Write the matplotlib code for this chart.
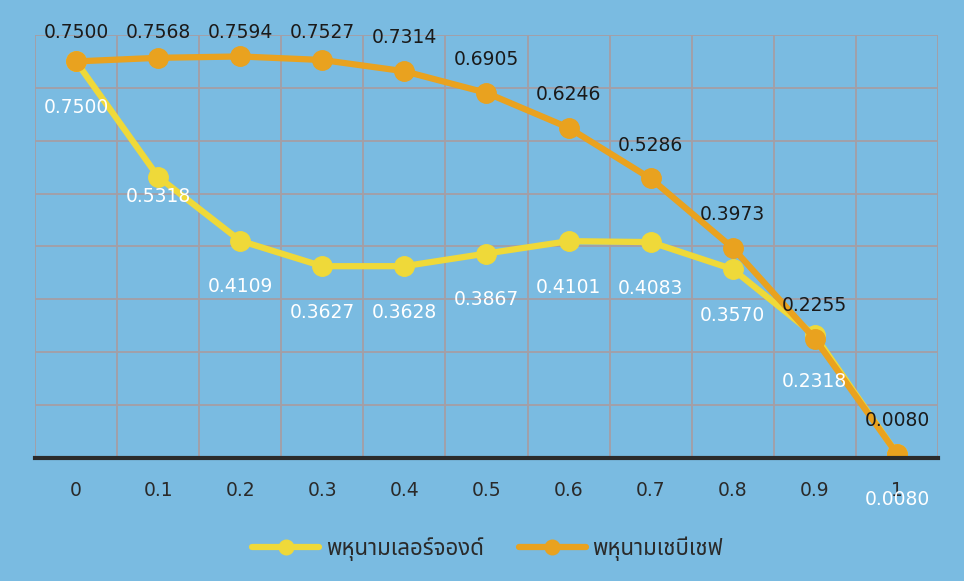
import matplotlib
matplotlib.use("Agg")
import matplotlib.pyplot as plt
import numpy as np

# x positions along the interval and the two approximations
x_labels = ["0", "0.1", "0.2", "0.3", "0.4", "0.5", "0.6", "0.7", "0.8", "0.9", "1"]
laguerre = [0.7500, 0.5318, 0.4109, 0.3627, 0.3628, 0.3867, 0.4101, 0.4083, 0.3570, 0.2318, 0.0080]
chebyshev = [0.7500, 0.7568, 0.7594, 0.7527, 0.7314, 0.6905, 0.6246, 0.5286, 0.3973, 0.2255, 0.0080]
series_names = ["พหุนามเลอร์จองด์", "พหุนามเชบีเชฟ"]

thai_fonts = ["Noto Sans Thai", "Noto Sans Thai UI", "Noto Looped Thai", "Loma",
              "Garuda", "Tlwg Typo", "Norasi", "Waree", "DejaVu Sans"]
plt.rcParams["font.family"] = ["DejaVu Sans"]

bg = "#7abbe1"
yellow = "#efd939"
orange = "#e9a21f"

fig = plt.figure(figsize=(9.64, 5.81), dpi=100, facecolor=bg)
ax = fig.add_axes([0.0363, 0.2117, 0.9367, 0.7281], facecolor=bg)

idx = np.arange(len(x_labels))
ax.plot(idx, laguerre, color=yellow, lw=4.5, marker="o", ms=14,
        mec=yellow, mfc=yellow, label=series_names[0], zorder=3, solid_capstyle="round")
ax.plot(idx, chebyshev, color=orange, lw=4.5, marker="o", ms=14,
        mec=orange, mfc=orange, label=series_names[1], zorder=4, solid_capstyle="round")

# value labels: black above the Chebyshev points, white below the Laguerre ones
for i, v in enumerate(chebyshev):
    ax.text(i, min(v + 0.063, 0.805), f"{v:.4f}", ha="center", va="center",
            fontsize=13.5, color="#1a1a1a", zorder=6)
for i, v in enumerate(laguerre):
    off = 0.037 if i == 1 else 0.087
    ax.text(i, v - off, f"{v:.4f}", ha="center", va="center",
            fontsize=13.5, color="white", zorder=6)

ax.set_xlim(-0.5, len(x_labels) - 0.5)
ax.set_ylim(0, 0.8)
ax.set_yticks(np.arange(0, 0.81, 0.1))
ax.set_xticks(np.arange(-0.5, len(x_labels), 1.0))
ax.set_xticklabels([])
ax.tick_params(axis="both", length=0, labelleft=False)
for i, lab in enumerate(x_labels):
    ax.text(i, -0.062, lab, ha="center", va="center", fontsize=13.5, color="#2a2a2a")

ax.grid(True, color="#a59ea5", lw=1.3)
ax.set_axisbelow(True)
for side in ["top", "right", "left"]:
    ax.spines[side].set_visible(False)
ax.spines["bottom"].set_color("#2b2b2b")
ax.spines["bottom"].set_linewidth(3)
ax.spines["bottom"].set_zorder(5)

leg = fig.legend(loc="center", bbox_to_anchor=(0.506, 0.056), ncol=2, frameon=False,
                 handlelength=3.0, columnspacing=1.6, handletextpad=0.3, markerscale=0.75,
                 prop={"family": thai_fonts, "size": 16})
for t in leg.get_texts():
    t.set_color("#2a2a2a")

fig.savefig("out.png", dpi=100, facecolor=bg)
